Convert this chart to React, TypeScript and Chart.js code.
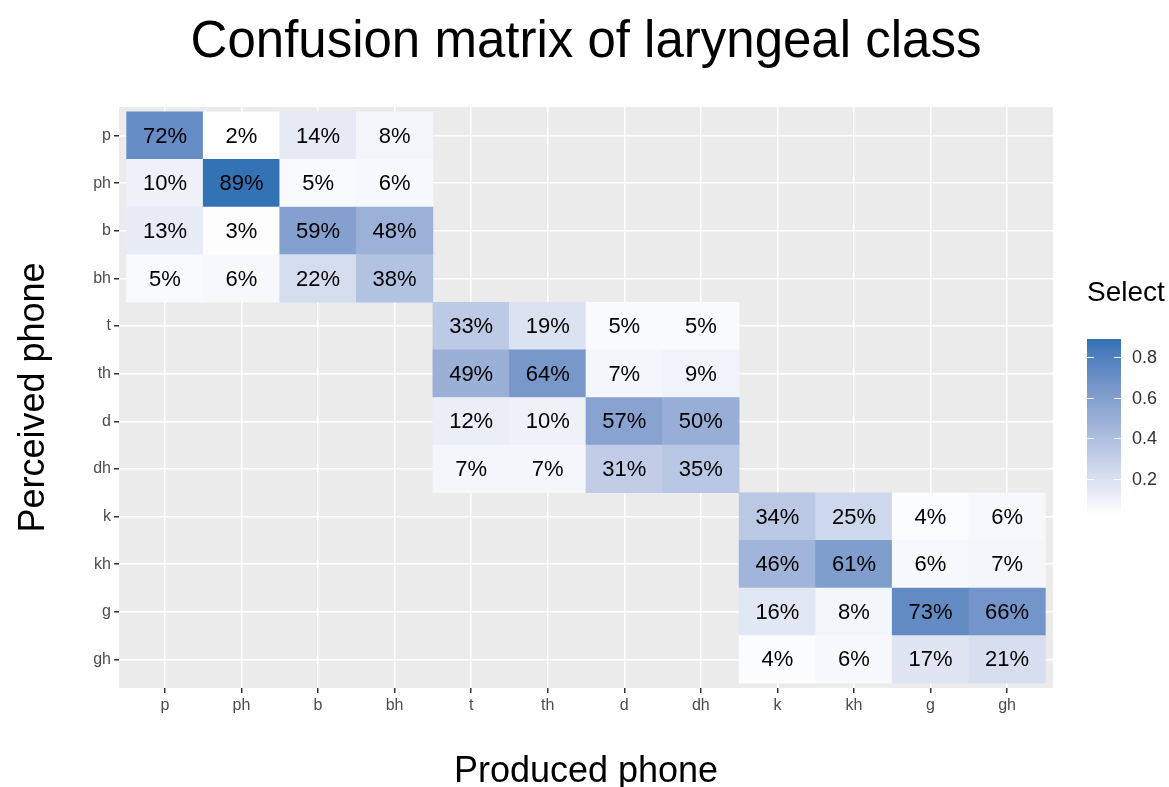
import React, { useEffect, useRef } from 'react';
import { Chart, registerables } from 'chart.js';

Chart.register(...registerables);

// ---------- data ----------
const producedLabels = ['p', 'ph', 'b', 'bh', 't', 'th', 'd', 'dh', 'k', 'kh', 'g', 'gh'];
const perceivedLabels = ['p', 'ph', 'b', 'bh', 't', 'th', 'd', 'dh', 'k', 'kh', 'g', 'gh'];

// rows = perceived, columns = produced (percent)
const labialBlock = [
  [72, 2, 14, 8],
  [10, 89, 5, 6],
  [13, 3, 59, 48],
  [5, 6, 22, 38],
];
const coronalBlock = [
  [33, 19, 5, 5],
  [49, 64, 7, 9],
  [12, 10, 57, 50],
  [7, 7, 31, 35],
];
const velarBlock = [
  [34, 25, 4, 6],
  [46, 61, 6, 7],
  [16, 8, 73, 66],
  [4, 6, 17, 21],
];
const colorbarTicks = [0.2, 0.4, 0.6, 0.8];

const titleText = 'Confusion matrix of laryngeal class';
const xTitleText = 'Produced phone';
const yTitleText = 'Perceived phone';
const legendTitleText = 'Select';

const lowColor = [255, 255, 255];
const highColor = [51, 114, 181];
const FONT = '"Liberation Sans", Arial, Helvetica, sans-serif';

// ---------- colour helpers (Lab interpolation like ggplot) ----------
function toLin(c: number) {
  c /= 255;
  return c <= 0.04045 ? c / 12.92 : Math.pow((c + 0.055) / 1.055, 2.4);
}
function fromLin(c: number) {
  const v = c <= 0.0031308 ? 12.92 * c : 1.055 * Math.pow(c, 1 / 2.4) - 0.055;
  return Math.round(Math.max(0, Math.min(1, v)) * 255);
}
function rgbToLab(rgb: number[]) {
  const r = toLin(rgb[0]), g = toLin(rgb[1]), b = toLin(rgb[2]);
  const X = (0.4124 * r + 0.3576 * g + 0.1805 * b) / 0.95047;
  const Y = 0.2126 * r + 0.7152 * g + 0.0722 * b;
  const Z = (0.0193 * r + 0.1192 * g + 0.9505 * b) / 1.08883;
  const f = (t: number) => (t > 0.008856 ? Math.cbrt(t) : 7.787 * t + 16 / 116);
  const fx = f(X), fy = f(Y), fz = f(Z);
  return [116 * fy - 16, 500 * (fx - fy), 200 * (fy - fz)];
}
function labToRgb(lab: number[]) {
  const fy = (lab[0] + 16) / 116;
  const fx = fy + lab[1] / 500;
  const fz = fy - lab[2] / 200;
  const inv = (t: number) => (t * t * t > 0.008856 ? t * t * t : (t - 16 / 116) / 7.787);
  const X = inv(fx) * 0.95047, Y = inv(fy), Z = inv(fz) * 1.08883;
  const r = 3.2406 * X - 1.5372 * Y - 0.4986 * Z;
  const g = -0.9689 * X + 1.8758 * Y + 0.0415 * Z;
  const b = 0.0557 * X - 0.204 * Y + 1.057 * Z;
  return [fromLin(r), fromLin(g), fromLin(b)];
}
const lowLab = rgbToLab(lowColor);
const highLab = rgbToLab(highColor);
function rampColor(t: number) {
  const tt = Math.max(0, Math.min(1, t));
  const lab = [0, 1, 2].map((i) => lowLab[i] + (highLab[i] - lowLab[i]) * tt);
  const c = labToRgb(lab);
  return `rgb(${c[0]},${c[1]},${c[2]})`;
}

// ---------- tiles ----------
type Tile = { col: number; row: number; value: number };
const blocks = [labialBlock, coronalBlock, velarBlock];
const tiles: Tile[] = [];
blocks.forEach((block, b) => {
  block.forEach((rowVals, r) => {
    rowVals.forEach((v, c) => {
      tiles.push({ col: b * 4 + c, row: b * 4 + r, value: v / 100 });
    });
  });
});
const vMin = Math.min(...tiles.map((t) => t.value));
const vMax = Math.max(...tiles.map((t) => t.value));
const fillFor = (v: number) => rampColor((v - vMin) / (vMax - vMin));

export default function App() {
  const ref = useRef<HTMLCanvasElement | null>(null);

  useEffect(() => {
    if (!ref.current) return;

    const decorPlugin = {
      id: 'decor',
      beforeDraw(chart: any) {
        const { ctx, chartArea } = chart;
        ctx.save();
        ctx.fillStyle = '#FFFFFF';
        ctx.fillRect(0, 0, chart.width, chart.height);
        ctx.fillStyle = '#EBEBEB';
        ctx.fillRect(chartArea.left, chartArea.top, chartArea.right - chartArea.left, chartArea.bottom - chartArea.top);
        ctx.restore();
      },
      afterDatasetsDraw(chart: any) {
        const { ctx, scales } = chart;
        ctx.save();
        ctx.fillStyle = '#000000';
        ctx.font = `22px ${FONT}`;
        ctx.textAlign = 'center';
        ctx.textBaseline = 'middle';
        tiles.forEach((t) => {
          const x = scales.x.getPixelForValue(t.col);
          const y = scales.y.getPixelForValue(t.row);
          ctx.fillText(`${Math.round(t.value * 100)}%`, x, y + 1);
        });
        ctx.restore();
      },
      afterDraw(chart: any) {
        const { ctx, chartArea } = chart;
        const cx = (chartArea.left + chartArea.right) / 2;
        const cy = (chartArea.top + chartArea.bottom) / 2;
        ctx.save();
        ctx.fillStyle = '#000000';
        // main title
        ctx.font = `51px ${FONT}`;
        ctx.textAlign = 'center';
        ctx.textBaseline = 'alphabetic';
        ctx.fillText(titleText, cx, 57);
        // x title
        ctx.font = `36px ${FONT}`;
        ctx.fillText(xTitleText, cx, 782);
        // y title
        ctx.save();
        ctx.translate(44, cy);
        ctx.rotate(-Math.PI / 2);
        ctx.fillText(yTitleText, 0, 0);
        ctx.restore();

        // legend
        const barLeft = 1087, barRight = 1121, barTop = 339, barBottom = 515;
        ctx.textAlign = 'left';
        ctx.font = `28px ${FONT}`;
        ctx.fillText(legendTitleText, 1087, 301);
        const grad = ctx.createLinearGradient(0, barBottom, 0, barTop);
        for (let i = 0; i <= 20; i++) {
          grad.addColorStop(i / 20, rampColor(i / 20));
        }
        ctx.fillStyle = grad;
        ctx.fillRect(barLeft, barTop, barRight - barLeft, barBottom - barTop);
        const yFor = (v: number) => barBottom - ((v - vMin) / (vMax - vMin)) * (barBottom - barTop);
        ctx.strokeStyle = 'rgba(255,255,255,0.9)';
        ctx.lineWidth = 1.2;
        ctx.font = `18px ${FONT}`;
        ctx.fillStyle = '#333333';
        ctx.textBaseline = 'middle';
        colorbarTicks.forEach((v) => {
          const y = Math.round(yFor(v)) + 0.5;
          ctx.beginPath();
          ctx.moveTo(barLeft, y);
          ctx.lineTo(barLeft + 7, y);
          ctx.moveTo(barRight - 7, y);
          ctx.lineTo(barRight, y);
          ctx.stroke();
          ctx.fillText(v.toFixed(1), 1132, y + 1);
        });
        ctx.restore();
      },
    };

    const gridOpts = {
      color: '#FFFFFF',
      lineWidth: 1.5,
      offset: false,
      drawTicks: true,
      tickLength: 5,
      tickColor: '#333333',
      tickWidth: 1.5,
    };

    const chart = new Chart(ref.current, {
      type: 'bar',
      data: {
        datasets: [
          {
            data: tiles.map((t) => ({ x: t.col, y: [t.row - 0.5, t.row + 0.5] })) as any,
            backgroundColor: tiles.map((t) => fillFor(t.value)),
            borderWidth: 0,
            barPercentage: 1,
            categoryPercentage: 1,
          },
        ],
      },
      options: {
        animation: false,
        responsive: false,
        devicePixelRatio: 1,
        layout: { padding: { top: 107, right: 116, bottom: 0, left: 0 } },
        plugins: {
          legend: { display: false },
          tooltip: { enabled: false },
          title: { display: false },
        },
        scales: {
          x: {
            type: 'linear',
            min: -0.6,
            max: 11.6,
            offset: false,
            bounds: 'data',
            afterBuildTicks: (axis: any) => {
              axis.ticks = producedLabels.map((_, i) => ({ value: i }));
            },
            afterFit: (axis: any) => {
              axis.height = 99;
            },
            ticks: {
              autoSkip: false,
              maxRotation: 0,
              padding: 3,
              color: '#4D4D4D',
              font: { family: FONT, size: 16 },
              callback: (v: any) => producedLabels[v as number] ?? '',
            },
            grid: gridOpts,
            border: { display: false },
          },
          y: {
            type: 'linear',
            min: -0.6,
            max: 11.6,
            offset: false,
            reverse: true,
            bounds: 'data',
            afterBuildTicks: (axis: any) => {
              axis.ticks = perceivedLabels.map((_, i) => ({ value: i }));
            },
            afterFit: (axis: any) => {
              axis.width = 119;
            },
            ticks: {
              autoSkip: false,
              padding: 3,
              color: '#4D4D4D',
              font: { family: FONT, size: 16 },
              callback: (v: any) => perceivedLabels[v as number] ?? '',
            },
            grid: gridOpts,
            border: { display: false },
          },
        },
      } as any,
      plugins: [decorPlugin],
    });

    return () => chart.destroy();
  }, []);

  return (
    <div style={{ position: 'fixed', left: 0, top: 0, width: 1169, height: 787, background: '#fff' }}>
      <canvas ref={ref} width={1169} height={787} style={{ display: 'block' }} />
    </div>
  );
}
